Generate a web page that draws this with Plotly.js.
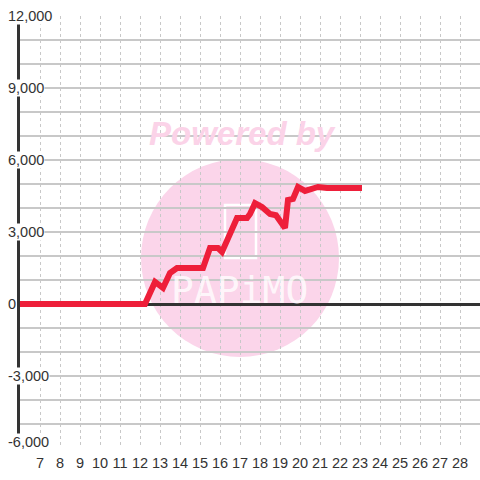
<!DOCTYPE html>
<html>
<head>
<meta charset="utf-8">
<script src="https://cdn.plot.ly/plotly-3.0.1.min.js"></script>
<style>html,body{margin:0;padding:0;background:#fff;}#chart{width:480px;height:480px;}</style>
</head>
<body>
<div id="chart"></div>
<script>
// Data
const dayX = [6, 12.25, 12.75, 13.15, 13.5, 13.85, 15.15, 15.5, 15.9, 16.1, 16.85, 17.35, 17.5, 17.75, 18.1, 18.5, 18.8, 19.05, 19.25, 19.4, 19.65, 19.9, 20.25, 20.9, 21.35, 23.1];
const valueY = [0, 0, 920, 670, 1290, 1500, 1500, 2330, 2330, 2170, 3580, 3580, 3750, 4200, 4040, 3750, 3700, 3375, 3170, 4330, 4375, 4875, 4710, 4875, 4830, 4830];
const xTickVals = [7, 8, 9, 10, 11, 12, 13, 14, 15, 16, 17, 18, 19, 20, 21, 22, 23, 24, 25, 26, 27, 28];
const yLabelVals = [12000, 9000, 6000, 3000, 0, -3000, -6000];
const yLabelText = ['12,000', '9,000', '6,000', '3,000', '0', '-3,000', '-6,000'];
const watermarkTop = 'Powered by';
const watermarkLogo = 'PAPiMO';

const W = 480, L = 20, R = 0, T = 16, B = 32;
const pw = W - L - R, ph = 480 - T - B;
const px = v => (v - L) / pw;
const py = v => (480 - B - v) / ph;

const trace = {
  x: dayX, y: valueY, type: 'scatter', mode: 'lines',
  line: {color: '#ee1f3a', width: 6, shape: 'linear'},
  hoverinfo: 'skip', showlegend: false
};

const annotations = yLabelVals.map((v, i) => ({
  xref: 'paper', yref: 'y', x: px(7), y: v, xanchor: 'left', yanchor: 'middle',
  yshift: (i === yLabelVals.length - 1) ? 6 : 0,
  text: yLabelText[i], showarrow: false, bgcolor: '#ffffff', borderpad: 0,
  font: {family: 'Liberation Sans, Arial, sans-serif', size: 14.5, color: '#333333'}
}));
annotations.push({
  xref: 'paper', yref: 'paper', x: px(242), y: py(133), xanchor: 'center', yanchor: 'middle',
  text: '<b><i>' + watermarkTop + '</i></b>', showarrow: false,
  font: {family: 'Liberation Sans, Arial, sans-serif', size: 33, color: '#fbd3e8'}
});
annotations.push({
  xref: 'paper', yref: 'paper', x: px(239), y: py(290), xanchor: 'center', yanchor: 'middle',
  text: watermarkLogo, showarrow: false,
  font: {family: 'DejaVu Sans Mono, monospace', size: 38, color: 'rgba(255,255,255,0.8)'}
});

const layout = {
  width: 480, height: 480,
  margin: {l: L, r: R, t: T, b: B, pad: 0},
  paper_bgcolor: '#ffffff', plot_bgcolor: '#ffffff',
  showlegend: false,
  xaxis: {
    range: [6, 29], tickvals: xTickVals, ticktext: xTickVals.map(String),
    showgrid: true, gridcolor: '#c8c8c8', griddash: 'dot', gridwidth: 1,
    zeroline: false, showline: false, ticks: '', ticklabelstandoff: 4,
    tickfont: {family: 'Liberation Sans, Arial, sans-serif', size: 14.5, color: '#333333'},
    fixedrange: true
  },
  yaxis: {
    range: [-6000, 12000], dtick: 1000, tick0: 0,
    showgrid: true, gridcolor: '#c8c8c8', gridwidth: 1.5,
    zeroline: true, zerolinecolor: '#333333', zerolinewidth: 3,
    showline: true, linecolor: '#333333', linewidth: 3, mirror: false,
    showticklabels: false, ticks: '', fixedrange: true
  },
  shapes: [
    {type: 'circle', xref: 'paper', yref: 'paper', layer: 'below',
     x0: px(141), x1: px(339), y0: py(357), y1: py(159),
     fillcolor: '#fbd5ea', line: {width: 0}},
    {type: 'rect', xref: 'paper', yref: 'paper', layer: 'below',
     x0: px(225), x1: px(256), y0: py(258), y1: py(205),
     fillcolor: 'rgba(0,0,0,0)', line: {color: '#ffffff', width: 2.5}}
  ],
  annotations: annotations
};

Plotly.newPlot('chart', [trace], layout, {displayModeBar: false, staticPlot: true});
</script>
</body>
</html>
